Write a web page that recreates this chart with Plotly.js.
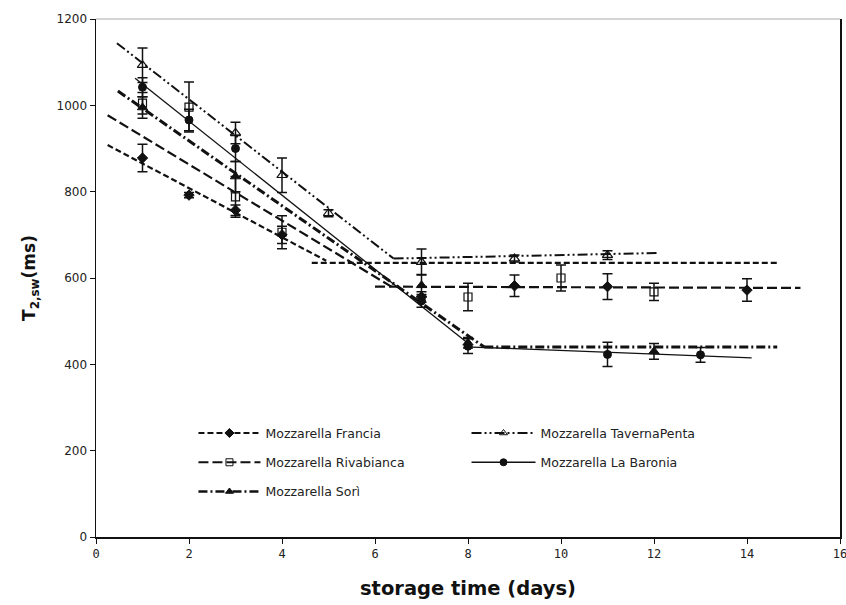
<!DOCTYPE html>
<html>
<head>
<meta charset="utf-8">
<script src="https://cdn.plot.ly/plotly-3.0.1.min.js"></script>
<style>html,body{margin:0;padding:0;background:#fff;}#chart{width:846px;height:605px;}</style>
</head>
<body>
<div id="chart"></div>
<script>
// ---- measured data (days, T2sw in ms, error) ----
const seriesNames = ["Mozzarella Francia", "Mozzarella TavernaPenta", "Mozzarella Rivabianca", "Mozzarella La Baronia", "Mozzarella Sorì"];

const franciaDays = [1, 2, 3, 4, 7, 9, 11, 14];
const franciaT2   = [878, 792, 757, 700, 556, 582, 580, 572];
const franciaErr  = [32, 6, 12, 20, 12, 25, 30, 26];

const tavernaDays = [1, 3, 4, 5, 7, 9, 11];
const tavernaT2   = [1093, 936, 838, 750, 637, 645, 653];
const tavernaErr  = [40, 25, 40, 8, 30, 8, 10];

const rivaDays = [1, 2, 3, 4, 8, 10, 12];
const rivaT2   = [1005, 996, 788, 706, 556, 600, 568];
const rivaErr  = [25, 58, 47, 38, 32, 30, 20];

const baroniaDays = [1, 2, 3, 7, 8, 11, 13];
const baroniaT2   = [1042, 966, 900, 547, 442, 423, 422];
const baroniaErr  = [22, 25, 30, 15, 17, 28, 17];

const soriDays = [1, 3, 7, 8, 12];
const soriT2   = [995, 835, 583, 450, 430];
const soriErr  = [25, 35, 25, 12, 18];

// fitted trend segments (two phases each)
const franciaFitX = [0.25, 4.95, null, 4.64, 14.65];
const franciaFitY = [908, 640, null, 635, 635];
const tavernaFitX = [0.45, 6.4, null, 6.4, 12.1];
const tavernaFitY = [1144, 645, null, 645, 658];
const rivaFitX = [0.25, 6.35, null, 6.0, 15.15];
const rivaFitY = [977, 580, null, 580, 577];
const baroniaFitX = [0.84, 8.1, null, 8.1, 14.1];
const baroniaFitY = [1063, 440, null, 440, 415];
const soriFitX = [0.47, 8.35, null, 8.35, 14.65];
const soriFitY = [1033, 440, null, 440, 440];

const xTicks = [0, 2, 4, 6, 8, 10, 12, 14, 16];
const yTicks = [0, 200, 400, 600, 800, 1000, 1200];

// ---- styles ----
const styles = [
  {dash: "6px,3px", width: 2.2, symbol: "diamond", msize: 8, lw: 1, legend: "legend"},
  {dash: "10px,3px,2px,3px,2px,3px", width: 2, symbol: "triangle-up-open", msize: 9, lw: 1.2, legend: "legend2"},
  {dash: "10px,4px", width: 2.2, symbol: "square-open", msize: 8, lw: 1.2, legend: "legend"},
  {dash: "solid", width: 1.3, symbol: "circle", msize: 8, lw: 1, legend: "legend2"},
  {dash: "9px,3px,2px,3px", width: 3, symbol: "triangle-up", msize: 9, lw: 1, legend: "legend"}
];
const dataSets = [
  [franciaDays, franciaT2, franciaErr, franciaFitX, franciaFitY],
  [tavernaDays, tavernaT2, tavernaErr, tavernaFitX, tavernaFitY],
  [rivaDays, rivaT2, rivaErr, rivaFitX, rivaFitY],
  [baroniaDays, baroniaT2, baroniaErr, baroniaFitX, baroniaFitY],
  [soriDays, soriT2, soriErr, soriFitX, soriFitY]
];

const traces = [];
dataSets.forEach((d, i) => {
  const s = styles[i];
  traces.push({
    x: d[3], y: d[4], mode: "lines", type: "scatter", showlegend: false, hoverinfo: "skip",
    line: {color: "#111", width: s.width, dash: s.dash}, connectgaps: false
  });
});
dataSets.forEach((d, i) => {
  const s = styles[i];
  traces.push({
    x: d[0], y: d[1], mode: "markers", type: "scatter", showlegend: false,
    marker: {symbol: s.symbol, size: s.msize, color: "#111", line: {color: "#111", width: s.lw}},
    error_y: {type: "data", array: d[2], visible: true, color: "#111", thickness: 1.5, width: 5}
  });
});
// legend entries
dataSets.forEach((d, i) => {
  const s = styles[i];
  traces.push({
    x: [null], y: [null], mode: "lines+markers", type: "scatter", name: seriesNames[i],
    legend: s.legend, legendgroup: "g" + i,
    line: {color: "#111", width: Math.min(s.width, 2.4), dash: s.dash},
    marker: {symbol: s.symbol, size: 7, color: "#111", line: {color: "#111", width: 1}}
  });
});

const legendFont = {size: 12.5, family: "DejaVu Sans, Verdana, sans-serif", color: "#222"};
const layout = {
  width: 846, height: 605,
  margin: {l: 96, r: 6, t: 19, b: 68},
  paper_bgcolor: "#fff", plot_bgcolor: "#fff",
  font: {family: "DejaVu Sans, Verdana, sans-serif", color: "#222", size: 12},
  xaxis: {
    range: [0, 16], tickvals: xTicks, ticktext: xTicks.map(String),
    showgrid: false, zeroline: false, showline: true, linecolor: "#111", linewidth: 1.5,
    ticks: "outside", ticklen: 5, tickcolor: "#111", ticklabeloverflow: "allow",
    tickfont: {size: 12, family: "DejaVu Sans Mono, monospace", color: "#222"},
    title: {text: "storage time (days)", font: {size: 19.5, family: "DejaVu Sans, sans-serif", weight: "bold", color: "#111"}, standoff: 21}
  },
  yaxis: {
    range: [0, 1200], tickvals: yTicks, ticktext: yTicks.map(String),
    showgrid: false, zeroline: false, showline: true, mirror: true, linecolor: "#111", linewidth: 1.5,
    ticks: "outside", ticklen: 5, tickcolor: "#111",
    tickfont: {size: 12, family: "DejaVu Sans, Verdana, sans-serif", color: "#222"},
    title: {text: "T<sub>2,sw</sub>(ms)", font: {size: 17, family: "DejaVu Sans, sans-serif", weight: "bold", color: "#111"}, standoff: 16}
  },
  shapes: [{type: "line", xref: "paper", yref: "paper", x0: 0, x1: 1, y0: 1, y1: 1, line: {color: "#aaa", width: 1}}],
  legend: {
    orientation: "v", x: 0.131, y: 0.229, xanchor: "left", yanchor: "top",
    itemwidth: 62, font: legendFont, bgcolor: "rgba(0,0,0,0)", tracegroupgap: 10
  },
  legend2: {
    orientation: "v", x: 0.498, y: 0.229, xanchor: "left", yanchor: "top",
    itemwidth: 64, font: legendFont, bgcolor: "rgba(0,0,0,0)", tracegroupgap: 10
  },
  showlegend: true
};

Plotly.newPlot("chart", traces, layout, {displayModeBar: false, staticPlot: true});
</script>
</body>
</html>
